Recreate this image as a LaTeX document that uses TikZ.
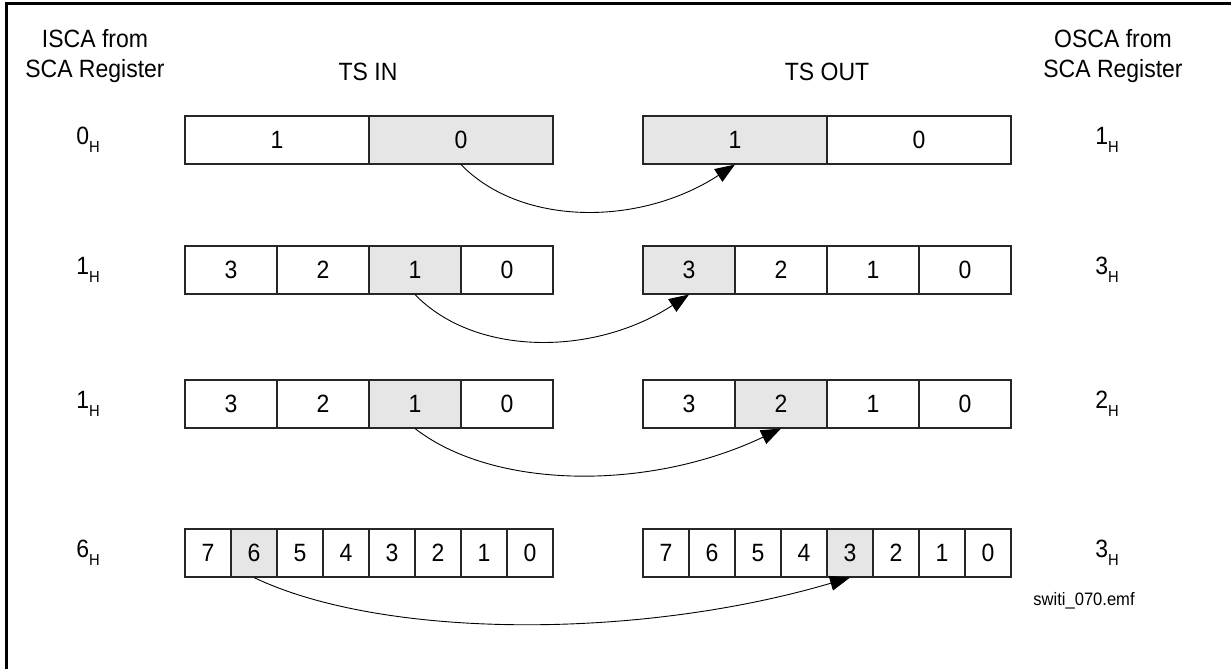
\documentclass[tikz,border=0pt]{standalone}
\usepackage{fontspec}
\setmainfont{Liberation Sans}[FakeStretch=0.92]
\usetikzlibrary{arrows.meta}

\definecolor{selgray}{HTML}{E6E6E6}
\newcommand{\hexval}[1]{#1\raisebox{-.32em}{\fontsize{16}{16}\selectfont H}}

\tikzset{
  cell/.style={draw=black!85, line width=1.1pt, minimum height=48pt, inner sep=0pt, font=\fontsize{25}{25}\selectfont},
  lbl/.style={align=center, inner sep=0pt, font=\fontsize{25}{30}\selectfont},
  conn/.style={line width=0.9pt, -{Triangle[length=20pt,width=15pt]}},
}

\begin{document}
\begin{tikzpicture}[x=1pt,y=-1pt]
  \useasboundingbox (0,0) rectangle (1231,669);
  % frame
  \draw[line width=2.6pt] (6.5,669) -- (6.5,3.5) -- (1231,3.5);

  % headings
  \node[lbl] (isca) at (95,56) {ISCA from\\SCA Register};
  \node[lbl] (tsin) at (368,72) {TS IN};
  \node[lbl] (tsout) at (827,72) {TS OUT};
  \node[lbl] (osca) at (1113,56) {OSCA from\\SCA Register};

  % registers: row/centre y/cells/selected in/selected out
  \foreach \r/\yc/\n/\si/\so in {1/140/2/0/1, 2/270/4/1/3, 3/404/4/1/2, 4/553/8/6/3}{
    \pgfmathsetmacro{\w}{368/\n}
    \pgfmathtruncatemacro{\lastbit}{\n-1}
    \foreach \bit in {0,...,\lastbit}{
      \pgfmathsetmacro{\xi}{185+\w*(\n-1-\bit+0.5)}
      \pgfmathsetmacro{\xo}{643+\w*(\n-1-\bit+0.5)}
      \ifnum\bit=\si\relax\def\incol{selgray}\else\def\incol{white}\fi
      \ifnum\bit=\so\relax\def\outcol{selgray}\else\def\outcol{white}\fi
      \node[cell, fill=\incol, minimum width=\w pt] (in\r-\bit) at (\xi,\yc) {\bit};
      \node[cell, fill=\outcol, minimum width=\w pt] (out\r-\bit) at (\xo,\yc) {\bit};
    }
    \node[lbl] (isca\r) at (88,\yc) {\hexval{\si}};
    \node[lbl] (osca\r) at (1107,\yc) {\hexval{\so}};
  }

  % moves
  \draw[conn] (in1-0.south) .. controls +(60,62) and +(-95,62) .. (out1-1.south);
  \draw[conn] (in2-1.south) .. controls +(60,62) and +(-95,62) .. (out2-3.south);
  \draw[conn] (in3-1.south) .. controls +(80,62) and +(-130,62) .. (out3-2.south);
  \draw[conn] (in4-6.south) .. controls +(130,62) and +(-210,62) .. (out4-3.south);

  \node[lbl, font=\fontsize{18}{18}\selectfont] (file) at (1084,601) {switi\_070.emf};
\end{tikzpicture}
\end{document}
